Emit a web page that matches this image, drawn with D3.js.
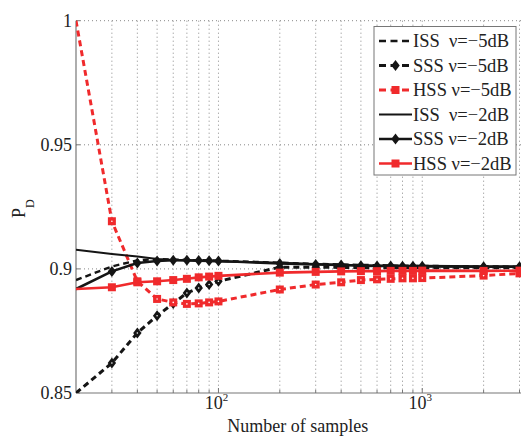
<!DOCTYPE html>
<html>
<head>
<meta charset="utf-8">
<script src="https://cdn.jsdelivr.net/npm/d3@7"></script>
<style>
  body { margin: 0; background: #fff; }
  text { font-family: "Liberation Serif", "DejaVu Serif", serif; fill: #222; }
</style>
</head>
<body>
<script>
// dati
var samples = [20, 30, 40, 50, 60, 70, 80, 90, 100, 200, 300, 400, 500, 600, 700, 800, 900, 1000, 2000, 3000];

var iss5 = [0.8955, 0.9010, 0.9034, 0.9040, 0.9038, 0.9036, 0.9035, 0.9034, 0.9033, 0.9025, 0.9020, 0.9018, 0.9016, 0.9015, 0.9014, 0.9013, 0.9012, 0.9012, 0.9010, 0.9009];
var sss5 = [0.8500, 0.8621, 0.8742, 0.8811, 0.8861, 0.8903, 0.8923, 0.8937, 0.8950, 0.9007, 0.9007, 0.9006, 0.9005, 0.9005, 0.9005, 0.9005, 0.9005, 0.9004, 0.9005, 0.9005];
var hss5 = [1.0000, 0.9192, 0.8950, 0.8879, 0.8865, 0.8859, 0.8861, 0.8865, 0.8869, 0.8917, 0.8937, 0.8946, 0.8955, 0.8958, 0.8960, 0.8962, 0.8962, 0.8963, 0.8973, 0.8982];
var iss2 = [0.9077, 0.9060, 0.9050, 0.9040, 0.9036, 0.9034, 0.9032, 0.9031, 0.9030, 0.9025, 0.9020, 0.9017, 0.9015, 0.9013, 0.9012, 0.9011, 0.9010, 0.9010, 0.9009, 0.9008];
var sss2 = [0.8919, 0.8990, 0.9024, 0.9032, 0.9035, 0.9035, 0.9034, 0.9033, 0.9032, 0.9022, 0.9018, 0.9016, 0.9013, 0.9012, 0.9012, 0.9011, 0.9011, 0.9011, 0.9009, 0.9009];
var hss2 = [0.8919, 0.8926, 0.8946, 0.8950, 0.8955, 0.8960, 0.8966, 0.8969, 0.8972, 0.8985, 0.8988, 0.8990, 0.8991, 0.8991, 0.8992, 0.8992, 0.8992, 0.8993, 0.8992, 0.8993];

var legendLabels = ["ISS  \u03bd=\u22125dB", "SSS \u03bd=\u22125dB", "HSS \u03bd=\u22125dB",
                    "ISS  \u03bd=\u22122dB", "SSS \u03bd=\u22122dB", "HSS \u03bd=\u22122dB"];
var yTicks = [0.85, 0.9, 0.95, 1];
var xGrid = [30, 40, 50, 60, 70, 80, 90, 100, 200, 300, 400, 500, 600, 700, 800, 900, 1000, 2000, 3000];

var black = "#151515";
var red = "#f02a2c";

var series = [
    {values: iss5, color: black, width: 2.4, dash: "6,4", marker: null},
    {values: sss5, color: black, width: 3, dash: "6,4", marker: "diamond"},
    {values: hss5, color: red, width: 3, dash: "6,4", marker: "square"},
    {values: iss2, color: black, width: 2, dash: null, marker: null},
    {values: sss2, color: black, width: 2.6, dash: null, marker: "diamond"},
    {values: hss2, color: red, width: 2.6, dash: null, marker: "square"}
];

var width = 521, height = 437;
var plot = {left: 76, right: 519.5, top: 20.7, bottom: 393};

var svg = d3.select("body").append("svg")
    .attr("width", width)
    .attr("height", height);

var x = d3.scaleLog().domain([20, 3000]).range([plot.left, plot.right]);
var y = d3.scaleLinear().domain([0.85, 1]).range([plot.bottom, plot.top]);

// griglia punteggiata
svg.selectAll("line.vgrid")
    .data(xGrid)
    .enter()
    .append("line")
    .attr("class", "vgrid")
    .attr("x1", function (d) { return x(d) })
    .attr("x2", function (d) { return x(d) })
    .attr("y1", plot.top)
    .attr("y2", plot.bottom)
    .style("stroke", "#888")
    .style("stroke-width", 1)
    .style("stroke-dasharray", "1,3");

svg.selectAll("line.hgrid")
    .data(yTicks.slice(1))
    .enter()
    .append("line")
    .attr("class", "hgrid")
    .attr("x1", plot.left)
    .attr("x2", width)
    .attr("y1", function (d) { return y(d) })
    .attr("y2", function (d) { return y(d) })
    .style("stroke", "#888")
    .style("stroke-width", 1)
    .style("stroke-dasharray", "1,3");

// assi
svg.append("line")
    .attr("x1", plot.left).attr("x2", plot.left)
    .attr("y1", plot.top).attr("y2", plot.bottom)
    .style("stroke", "#777").style("stroke-width", 1.2);

svg.append("line")
    .attr("x1", plot.left).attr("x2", width)
    .attr("y1", plot.bottom).attr("y2", plot.bottom)
    .style("stroke", "#777").style("stroke-width", 1.2);

svg.selectAll("line.xtick")
    .data(xGrid)
    .enter()
    .append("line")
    .attr("class", "xtick")
    .attr("x1", function (d) { return x(d) })
    .attr("x2", function (d) { return x(d) })
    .attr("y1", plot.bottom)
    .attr("y2", function (d) { return (d === 100 || d === 1000) ? plot.bottom - 5 : plot.bottom - 3 })
    .style("stroke", "#777");

svg.selectAll("line.ytick")
    .data(yTicks)
    .enter()
    .append("line")
    .attr("class", "ytick")
    .attr("x1", plot.left)
    .attr("x2", plot.left + 4)
    .attr("y1", function (d) { return y(d) })
    .attr("y2", function (d) { return y(d) })
    .style("stroke", "#777");

svg.selectAll("text.ylab")
    .data(yTicks)
    .enter()
    .append("text")
    .attr("class", "ylab")
    .attr("x", plot.left - 4)
    .attr("y", function (d) { return y(d) + 6 })
    .attr("text-anchor", "end")
    .style("font-size", "18px")
    .text(function (d) { return d3.format("")(d) });

var decades = svg.selectAll("text.xlab")
    .data([100, 1000])
    .enter()
    .append("text")
    .attr("class", "xlab")
    .attr("x", function (d) { return x(d) - 2 })
    .attr("y", 408.5)
    .attr("text-anchor", "middle")
    .style("font-size", "18px");
decades.append("tspan").text("10");
decades.append("tspan")
    .attr("dy", -8)
    .style("font-size", "11px")
    .text(function (d) { return Math.round(Math.log10(d)) });

svg.append("text")
    .attr("x", (plot.left + plot.right) / 2)
    .attr("y", 432)
    .attr("text-anchor", "middle")
    .style("font-size", "18px")
    .text("Number of samples");

var ylabel = svg.append("text")
    .attr("transform", "translate(25,218) rotate(-90)")
    .style("font-size", "18px");
ylabel.append("tspan").text("P");
ylabel.append("tspan").attr("dy", 9).style("font-size", "12px").text("D");

// curve
svg.append("clipPath").attr("id", "clip")
    .append("rect")
    .attr("x", plot.left).attr("y", plot.top - 2)
    .attr("width", width - plot.left).attr("height", plot.bottom - plot.top + 2);

var area = svg.append("g").attr("clip-path", "url(#clip)");

var line = d3.line()
    .x(function (d, i) { return x(samples[i]) })
    .y(function (d) { return y(d) });

function drawMarkers(g, s, cx, cy) {
    if (s.marker === "diamond") {
        g.append("path")
            .attr("d", "M" + cx + "," + (cy - 5.5) + "L" + (cx + 4.2) + "," + cy +
                "L" + cx + "," + (cy + 5.5) + "L" + (cx - 4.2) + "," + cy + "Z")
            .attr("fill", s.color);
    } else if (s.marker === "square") {
        g.append("rect")
            .attr("x", cx - 4).attr("y", cy - 4)
            .attr("width", 8).attr("height", 8)
            .attr("fill", s.color);
    }
    if (s.dash) {
        g.append("circle").attr("cx", cx).attr("cy", cy).attr("r", 0.8).attr("fill", "#fff");
    }
}

series.forEach(function (s) {
    area.append("path")
        .datum(s.values)
        .attr("d", line)
        .attr("fill", "none")
        .style("stroke", s.color)
        .style("stroke-width", s.width)
        .style("stroke-dasharray", s.dash);

    if (s.marker) {
        var g = area.append("g");
        s.values.forEach(function (v, i) {
            if (i === 0) return; // nessun marker sul primo punto
            drawMarkers(g, s, x(samples[i]), y(v));
        });
    }
});

// legenda
var legend = svg.append("g");
legend.append("rect")
    .attr("x", 374).attr("y", 26.5)
    .attr("width", 142).attr("height", 148.5)
    .attr("fill", "#fff")
    .style("stroke", "#777")
    .style("stroke-width", 1);

series.forEach(function (s, i) {
    var ly = 41 + i * 24.5;
    legend.append("line")
        .attr("x1", 379).attr("x2", 412)
        .attr("y1", ly).attr("y2", ly)
        .style("stroke", s.color)
        .style("stroke-width", s.width)
        .style("stroke-dasharray", s.dash ? "7,4.5" : null);
    if (s.marker) {
        var g = legend.append("g");
        drawMarkers(g, {marker: s.marker, color: s.color, dash: null}, 395.5, ly);
    }
    legend.append("text")
        .attr("x", 413)
        .attr("y", ly + 6)
        .attr("xml:space", "preserve")
        .style("white-space", "pre")
        .style("font-size", "18.5px")
        .text(legendLabels[i]);
});
</script>
</body>
</html>
